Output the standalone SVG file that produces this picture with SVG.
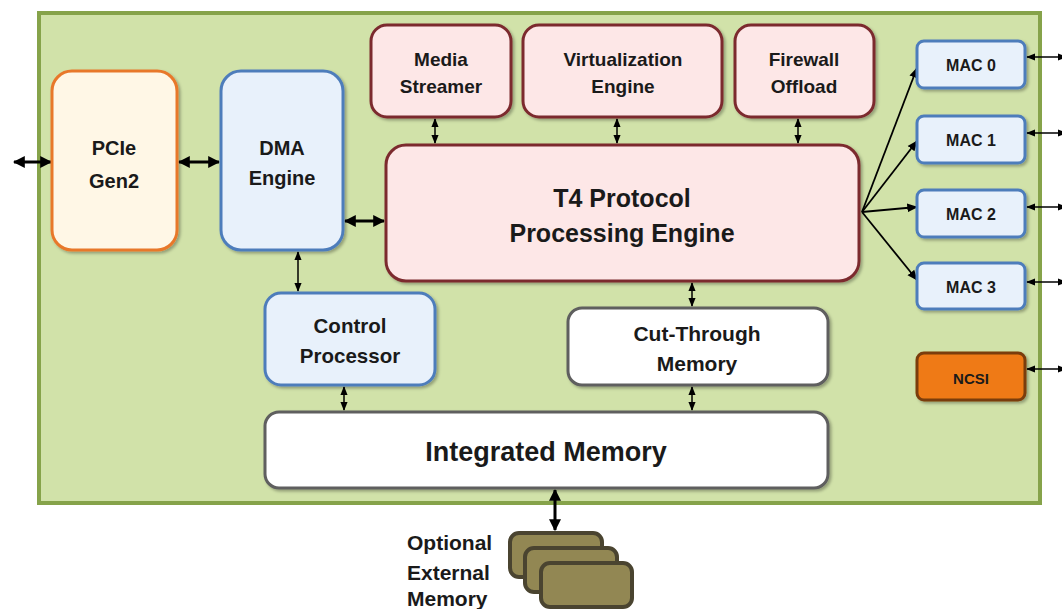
<svg xmlns="http://www.w3.org/2000/svg" width="1062" height="609" viewBox="0 0 1062 609">
<defs>
<style>
.t{font-family:"Liberation Sans",Arial,sans-serif;font-weight:bold;fill:#1a1a1a;text-anchor:middle;dominant-baseline:central}
.box{stroke-width:3}
.orange{fill:#fff7e6;stroke:#e8782a}
.blue{fill:#e8f1fb;stroke:#4e7dbb}
.red{fill:#fde7e7;stroke:#7b2a2e}
.gray{fill:#ffffff;stroke:#5e5e5e}
.ext{fill:#928753;stroke:#4a4430;stroke-width:4}
.thick{stroke:#000;stroke-width:3;fill:none;marker-start:url(#ah);marker-end:url(#ah)}
.thin{stroke:#000;stroke-width:1.5;fill:none;marker-start:url(#as);marker-end:url(#as)}
.fan{stroke:#000;stroke-width:1.8;fill:none;marker-end:url(#as)}
</style>
<marker id="ah" viewBox="0 0 10 10" refX="9" refY="5" markerWidth="4" markerHeight="4" orient="auto-start-reverse" markerUnits="strokeWidth"><path d="M0,0 L10,5 L0,10 z" fill="#000"/></marker>
<marker id="as" viewBox="0 0 10 10" refX="9" refY="5" markerWidth="6" markerHeight="6" orient="auto-start-reverse" markerUnits="strokeWidth"><path d="M0,1 L10,5 L0,9 z" fill="#000"/></marker>
<filter id="sh" x="-10%" y="-10%" width="130%" height="130%"><feDropShadow dx="2" dy="2" stdDeviation="1.5" flood-color="#000" flood-opacity="0.3"/></filter>
</defs>
<rect x="0" y="0" width="1062" height="609" fill="#ffffff"/>
<rect id="board" x="39" y="13" width="1001" height="490" fill="#d1e2a9" stroke="#86a34a" stroke-width="4"/>

<g id="connectors">
<line class="thick" x1="14" y1="162" x2="51" y2="162"/>
<line class="thick" x1="179" y1="162" x2="219" y2="162"/>
<line class="thick" x1="345" y1="221" x2="384" y2="221"/>
<line class="thin" x1="298" y1="252" x2="298" y2="291"/>
<line class="thin" x1="435" y1="119" x2="435" y2="143"/>
<line class="thin" x1="617" y1="119" x2="617" y2="143"/>
<line class="thin" x1="798" y1="119" x2="798" y2="143"/>
<line class="thin" x1="692" y1="283" x2="692" y2="306"/>
<line class="thin" x1="344" y1="387" x2="344" y2="410"/>
<line class="thin" x1="692" y1="387" x2="692" y2="410"/>
<line class="thick" x1="555" y1="490" x2="555" y2="530"/>
<line class="fan" x1="862" y1="212" x2="917" y2="68"/>
<line class="fan" x1="862" y1="212" x2="917" y2="141"/>
<line class="fan" x1="862" y1="212" x2="917" y2="207"/>
<line class="fan" x1="862" y1="212" x2="917" y2="280"/>
<line class="thin" x1="1027" y1="57" x2="1066" y2="57"/>
<line class="thin" x1="1027" y1="133" x2="1066" y2="133"/>
<line class="thin" x1="1027" y1="207" x2="1066" y2="207"/>
<line class="thin" x1="1027" y1="282" x2="1066" y2="282"/>
<line class="thin" x1="1027" y1="369" x2="1066" y2="369"/>
</g>

<g id="pcie"><rect class="box orange" x="52" y="71" width="125" height="179" rx="20" filter="url(#sh)"/><text class="t" x="114" y="148" font-size="20">PCIe</text><text class="t" x="114" y="181" font-size="20">Gen2</text></g>
<g id="dma"><rect class="box blue" x="221" y="71" width="122" height="179" rx="20" filter="url(#sh)"/><text class="t" x="282" y="148" font-size="20">DMA</text><text class="t" x="282" y="178" font-size="20">Engine</text></g>
<g id="media"><rect class="box red" x="371" y="25" width="140" height="92" rx="16" filter="url(#sh)"/><text class="t" x="441" y="59" font-size="19">Media</text><text class="t" x="441" y="86" font-size="19">Streamer</text></g>
<g id="virt"><rect class="box red" x="523" y="25" width="199" height="92" rx="16" filter="url(#sh)"/><text class="t" x="623" y="59" font-size="19">Virtualization</text><text class="t" x="623" y="86" font-size="19">Engine</text></g>
<g id="firewall"><rect class="box red" x="735" y="25" width="139" height="92" rx="16" filter="url(#sh)"/><text class="t" x="804" y="59" font-size="19">Firewall</text><text class="t" x="804" y="86" font-size="19">Offload</text></g>
<g id="t4"><rect class="box red" x="386" y="145" width="473" height="136" rx="20" filter="url(#sh)"/><text class="t" x="622" y="198" font-size="25">T4 Protocol</text><text class="t" x="622" y="233" font-size="25">Processing Engine</text></g>
<g id="control"><rect class="box blue" x="265" y="293" width="170" height="92" rx="16" filter="url(#sh)"/><text class="t" x="350" y="325" font-size="20.5">Control</text><text class="t" x="350" y="355" font-size="20.5">Processor</text></g>
<g id="cutthrough"><rect class="box gray" x="568" y="308" width="260" height="77" rx="14" filter="url(#sh)"/><text class="t" x="697" y="333" font-size="21">Cut-Through</text><text class="t" x="697" y="363" font-size="21">Memory</text></g>
<g id="integrated"><rect class="box gray" x="265" y="412" width="563" height="76" rx="14" filter="url(#sh)"/><text class="t" x="546" y="452" font-size="27">Integrated Memory</text></g>
<g id="mac0"><rect class="box blue" x="917" y="41" width="108" height="47" rx="7" filter="url(#sh)"/><text class="t" x="971" y="65" font-size="16">MAC 0</text></g>
<g id="mac1"><rect class="box blue" x="917" y="116" width="108" height="47" rx="7" filter="url(#sh)"/><text class="t" x="971" y="140" font-size="16">MAC 1</text></g>
<g id="mac2"><rect class="box blue" x="917" y="190" width="108" height="47" rx="7" filter="url(#sh)"/><text class="t" x="971" y="214" font-size="16">MAC 2</text></g>
<g id="mac3"><rect class="box blue" x="917" y="263" width="108" height="46" rx="7" filter="url(#sh)"/><text class="t" x="971" y="287" font-size="16">MAC 3</text></g>
<g id="ncsi"><rect class="box" x="917" y="353" width="108" height="47" rx="7" fill="#ef7a14" stroke="#7a3d0a" filter="url(#sh)"/><text class="t" x="971" y="378" font-size="15">NCSI</text></g>
<g id="extmem">
<rect class="ext" x="510" y="533" width="92" height="44" rx="9"/>
<rect class="ext" x="525" y="548" width="92" height="44" rx="9"/>
<rect class="ext" x="541" y="563" width="91" height="44" rx="9"/>
<text class="t" x="407" y="542" font-size="21" style="text-anchor:start">Optional</text>
<text class="t" x="407" y="572" font-size="21" style="text-anchor:start">External</text>
<text class="t" x="407" y="598" font-size="21" style="text-anchor:start">Memory</text>
</g>
</svg>
